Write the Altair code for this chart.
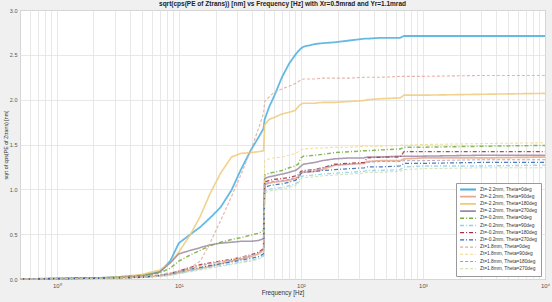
import altair as alt
import pandas as pd

freq = [0.5, 1, 2, 3, 5, 7, 8.5, 10, 12.5, 15, 18, 22, 27, 32, 39, 45, 49.5, 50.5, 55, 60,
        70, 80, 90, 95, 100, 105, 130, 150, 190, 250, 330, 350, 450, 650, 700, 1000, 3000, 10000]

series_names = [
    "Zt=-2.2mm, Theta=0deg", "Zt=-2.2mm, Theta=90deg", "Zt=-2.2mm, Theta=180deg", "Zt=-2.2mm, Theta=270deg",
    "Zt=-0.2mm, Theta=0deg", "Zt=-0.2mm, Theta=90deg", "Zt=-0.2mm, Theta=180deg", "Zt=-0.2mm, Theta=270deg",
    "Zt=1.8mm, Theta=0deg", "Zt=1.8mm, Theta=90deg", "Zt=1.8mm, Theta=180deg", "Zt=1.8mm, Theta=270deg",
]

# values per series (same order as freq)
s1 = [0.0, 0.005, 0.01, 0.02, 0.04, 0.08, 0.2, 0.4, 0.5, 0.58, 0.68, 0.80, 0.99, 1.21, 1.44, 1.58, 1.68, 1.78, 1.92, 2.03,
      2.25, 2.40, 2.50, 2.54, 2.57, 2.59, 2.62, 2.63, 2.64, 2.66, 2.68, 2.68, 2.69, 2.69, 2.71, 2.71, 2.71, 2.71]
s2 = [0.0, 0.004, 0.008, 0.012, 0.02, 0.035, 0.05, 0.07, 0.1, 0.12, 0.14, 0.17, 0.2, 0.22, 0.25, 0.28, 0.32, 1.05, 1.07, 1.08,
      1.09, 1.10, 1.12, 1.13, 1.18, 1.19, 1.2, 1.22, 1.27, 1.28, 1.29, 1.31, 1.32, 1.32, 1.34, 1.35, 1.35, 1.36]
s3 = [0.0, 0.005, 0.01, 0.02, 0.05, 0.10, 0.18, 0.30, 0.5, 0.7, 0.95, 1.18, 1.36, 1.40, 1.41, 1.42, 1.43, 1.72, 1.78, 1.80,
      1.84, 1.86, 1.88, 1.92, 1.95, 1.96, 1.96, 1.97, 1.97, 1.98, 1.99, 2.0, 2.01, 2.02, 2.05, 2.05, 2.06, 2.07]
s4 = [0.0, 0.005, 0.01, 0.015, 0.03, 0.08, 0.18, 0.28, 0.32, 0.35, 0.38, 0.40, 0.41, 0.42, 0.42, 0.43, 0.45, 1.12, 1.14, 1.15,
      1.17, 1.19, 1.21, 1.23, 1.26, 1.28, 1.30, 1.32, 1.34, 1.35, 1.35, 1.36, 1.36, 1.37, 1.37, 1.37, 1.38, 1.38]
s5 = [0.0, 0.005, 0.01, 0.02, 0.04, 0.07, 0.12, 0.2, 0.27, 0.32, 0.37, 0.41, 0.44, 0.46, 0.49, 0.51, 0.54, 1.16, 1.18, 1.19,
      1.21, 1.24, 1.26, 1.28, 1.35, 1.37, 1.38, 1.39, 1.41, 1.42, 1.43, 1.43, 1.44, 1.45, 1.47, 1.47, 1.48, 1.49]
s6 = [0.0, 0.003, 0.006, 0.01, 0.018, 0.03, 0.045, 0.06, 0.09, 0.11, 0.13, 0.15, 0.17, 0.19, 0.21, 0.23, 0.26, 0.98, 1.0, 1.01,
      1.02, 1.04, 1.06, 1.08, 1.14, 1.15, 1.16, 1.17, 1.18, 1.19, 1.20, 1.21, 1.21, 1.22, 1.25, 1.26, 1.26, 1.27]
s7 = [0.0, 0.004, 0.008, 0.012, 0.02, 0.04, 0.06, 0.09, 0.13, 0.16, 0.18, 0.2, 0.22, 0.24, 0.27, 0.30, 0.34, 1.08, 1.10, 1.11,
      1.12, 1.13, 1.15, 1.16, 1.20, 1.21, 1.22, 1.24, 1.28, 1.29, 1.30, 1.35, 1.36, 1.36, 1.42, 1.42, 1.42, 1.42]
s8 = [0.0, 0.004, 0.008, 0.012, 0.02, 0.04, 0.06, 0.08, 0.11, 0.13, 0.15, 0.17, 0.19, 0.21, 0.23, 0.25, 0.28, 1.02, 1.04, 1.05,
      1.06, 1.08, 1.10, 1.12, 1.18, 1.19, 1.20, 1.21, 1.22, 1.23, 1.24, 1.25, 1.25, 1.26, 1.29, 1.29, 1.30, 1.30]
s9 = [0.0, 0.003, 0.008, 0.015, 0.03, 0.05, 0.07, 0.09, 0.13, 0.2, 0.4, 0.65, 0.92, 1.15, 1.44, 1.68, 1.85, 1.98, 2.03, 2.08,
      2.12, 2.15, 2.18, 2.2, 2.22, 2.23, 2.23, 2.24, 2.24, 2.24, 2.25, 2.25, 2.25, 2.26, 2.26, 2.26, 2.27, 2.27]
s10 = [0.0, 0.003, 0.006, 0.01, 0.02, 0.04, 0.06, 0.08, 0.11, 0.14, 0.17, 0.2, 0.22, 0.24, 0.26, 0.28, 0.31, 1.32, 1.34, 1.35,
       1.36, 1.38, 1.40, 1.42, 1.44, 1.45, 1.46, 1.46, 1.47, 1.47, 1.48, 1.48, 1.48, 1.49, 1.49, 1.50, 1.51, 1.52]
s11 = [0.0, 0.004, 0.008, 0.012, 0.02, 0.04, 0.06, 0.08, 0.12, 0.15, 0.17, 0.19, 0.21, 0.23, 0.26, 0.29, 0.33, 1.06, 1.08, 1.09,
       1.10, 1.11, 1.13, 1.14, 1.19, 1.20, 1.22, 1.24, 1.27, 1.28, 1.29, 1.30, 1.31, 1.31, 1.32, 1.32, 1.33, 1.33]
s12 = [0.0, 0.003, 0.006, 0.01, 0.017, 0.03, 0.04, 0.06, 0.08, 0.10, 0.12, 0.14, 0.16, 0.18, 0.2, 0.22, 0.25, 0.96, 0.98, 0.99,
       1.0, 1.02, 1.04, 1.06, 1.12, 1.13, 1.14, 1.15, 1.16, 1.17, 1.18, 1.19, 1.19, 1.20, 1.22, 1.23, 1.24, 1.24]

all_values = [s1, s2, s3, s4, s5, s6, s7, s8, s9, s10, s11, s12]

colors = ["#4aaedf", "#e8a88a", "#efca7a", "#9a8aa2",
          "#73ab3a", "#92d0ea", "#a8283f", "#2a66ad",
          "#e3a898", "#f2d88c", "#a596b8", "#bcdaa2"]
dashes = [[1, 0], [1, 0], [1, 0], [1, 0],
          [4, 2, 1, 2], [4, 2, 1, 2], [4, 2, 1, 2], [4, 2, 1, 2],
          [3, 2], [3, 2], [3, 2], [3, 2]]
widths = [1.8, 0.9, 0.9, 0.9, 1.4, 0.9, 1.4, 1.4, 0.9, 0.9, 0.9, 0.9]

major_ticks = [1, 10, 100, 1000, 10000]
major_labels = ["10⁰", "10¹", "10²", "10³", "10⁴"]
minor_ticks = [m * d for d in [0.1, 1, 10, 100, 1000] for m in range(2, 10) if 0.5 <= m * d <= 10000]
y_ticks = [0, 0.5, 1, 1.5, 2, 2.5, 3]

rows = []
for name, vals in zip(series_names, all_values):
    for f, v in zip(freq, vals):
        rows.append({"series": name, "freq": f, "value": v})
df = pd.DataFrame(rows)

label_expr = " : ".join(
    [f"datum.value == {t} ? '{l}'" for t, l in zip(major_ticks, major_labels)]
) + " : ''"

FONT = "Liberation Sans"

chart = alt.Chart(df).mark_line(interpolate="linear").encode(
    x=alt.X("freq:Q",
            scale=alt.Scale(type="log", domain=[0.5, 10000], nice=False),
            axis=alt.Axis(values=sorted(major_ticks + minor_ticks), labelExpr=label_expr,
                          title="Frequency [Hz]", grid=True, ticks=False, domain=False,
                          labelFontSize=6, labelPadding=3, titleFontSize=6.3,
                          titlePadding=1, labelFlush=False, labelOverlap=False)),
    y=alt.Y("value:Q",
            scale=alt.Scale(domain=[0, 3], nice=False),
            axis=alt.Axis(values=y_ticks, title="sqrt of cps(PE of Ztrans) [nm]", grid=True,
                          ticks=False, domain=False, labelFontSize=5.5, labelPadding=3,
                          titleFontSize=5.3, titlePadding=1, labelFlush=False)),
    color=alt.Color("series:N", scale=alt.Scale(domain=series_names, range=colors),
                    sort=series_names,
                    legend=alt.Legend(title=None, orient="none", legendX=436, legendY=173,
                                      symbolType="stroke", symbolSize=250, symbolStrokeWidth=1,
                                      clipHeight=7, labelFontSize=4.8, rowPadding=0.2, padding=3,
                                      labelOffset=3,
                                      fillColor="white", strokeColor="#9a9a9a",
                                      labelLimit=200, labelColor="#333")),
    strokeDash=alt.StrokeDash("series:N", scale=alt.Scale(domain=series_names, range=dashes),
                              sort=series_names, legend=alt.Legend(title=None)),
    strokeWidth=alt.StrokeWidth("series:N", scale=alt.Scale(domain=series_names, range=widths),
                                legend=None),
    order=alt.Order("order_key:Q"),
).transform_calculate(
    order_key="indexof(" + str(series_names[::-1]).replace('"', "'") + ", datum.series)"
).properties(
    width=525, height=269,
    title=alt.Title("sqrt(cps(PE of Ztrans)) [nm] vs Frequency [Hz] with Xr=0.5mrad and Yr=1.1mrad",
                    fontSize=6.5, fontWeight="bold", offset=1, color="#222")
).configure(
    background="#f0f0f0",
    font=FONT,
    padding={"left": 20, "top": 10, "right": 7, "bottom": 23},
    autosize=alt.AutoSizeParams(type="none"),
).configure_view(
    fill="white", stroke="#a8a8a8", strokeWidth=1
).configure_axis(
    gridColor="#e2e2e2", gridWidth=0.8, labelColor="#555", titleColor="#333",
    labelFont=FONT, titleFont=FONT, titleFontWeight="normal"
).configure_line(opacity=0.85)

chart.save("out.html", embed_options={"renderer": "svg", "actions": False})
